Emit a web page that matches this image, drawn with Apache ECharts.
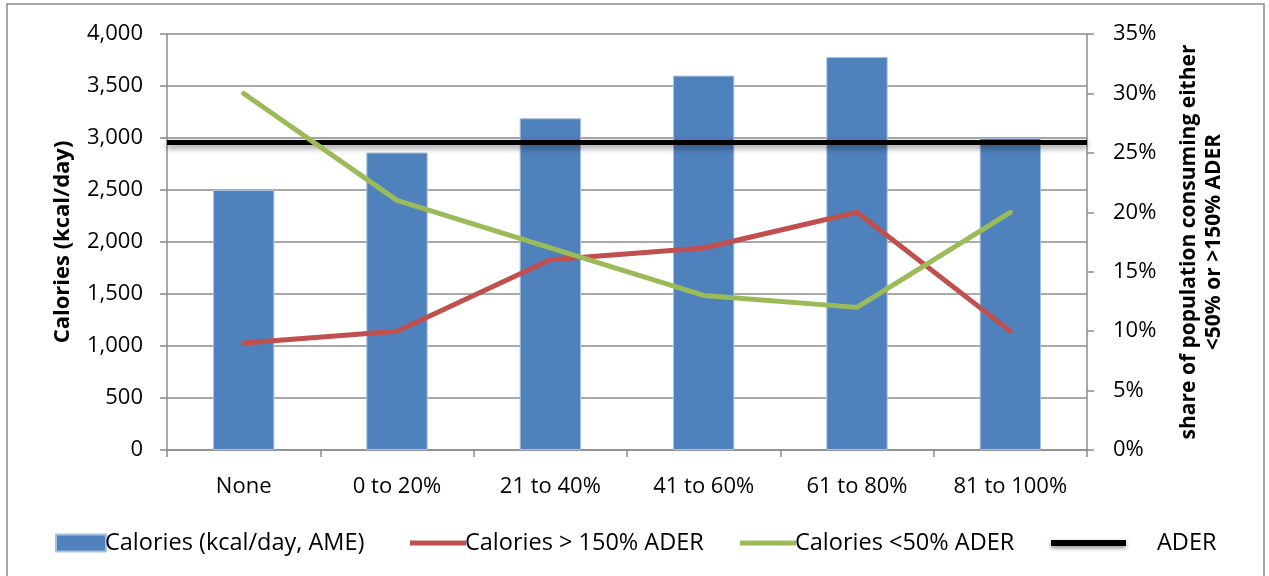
<!DOCTYPE html>
<html>
<head>
<meta charset="utf-8">
<script src="https://cdn.jsdelivr.net/npm/echarts@6/dist/echarts.min.js"></script>
<style>
  html, body { margin: 0; padding: 0; background: #fff; }
  #chart { width: 1269px; height: 576px; }
</style>
</head>
<body>
<div id="chart"></div>
<script>
// Share of land/plot categories and calorie consumption
const categories = ['None', '0 to 20%', '21 to 40%', '41 to 60%', '61 to 80%', '81 to 100%'];
const calories = [2500, 2860, 3190, 3600, 3780, 3000];          // kcal/day, AME
const above150 = [9, 10, 16, 17, 20, 10];                       // % consuming > 150% ADER
const below50 = [30, 21, 17, 13, 12, 20];                       // % consuming < 50% ADER
const aderValue = [2960];                                       // ADER reference, kcal/day
const leftTicks = { min: 0, max: 4000, step: 500 };
const rightTicks = { min: 0, max: 35, step: 5 };

const FONT = '"Open Sans", "Liberation Sans", sans-serif';
const GRID_GRAY = '#8c8c8c';
const TXT = '#000';

const chart = echarts.init(document.getElementById('chart'), null, { renderer: 'canvas' });

const legendBase = {
  orient: 'horizontal',
  itemGap: 0,
  textStyle: { fontFamily: FONT, fontSize: 23.5, color: TXT, padding: [0, 0, 0, -6] },
  selectedMode: false
};

const option = {
  backgroundColor: '#fff',
  animation: false,
  graphic: [{
    type: 'rect',
    shape: { x: 7, y: 4, width: 1257, height: 600 },
    style: { fill: 'none', stroke: '#8a8a8a', lineWidth: 1.5 },
    silent: true
  }],
  grid: { left: 167, right: 182, top: 34, bottom: 126, containLabel: false },
  legend: [
    Object.assign({}, legendBase, {
      left: 50, top: 526, itemWidth: 50, itemHeight: 17,
      data: [{ name: 'Calories (kcal/day, AME)', icon: 'rect' }]
    }),
    Object.assign({}, legendBase, {
      left: 405, top: 526, itemWidth: 56, itemHeight: 5,
      data: [{ name: 'Calories > 150% ADER', icon: 'rect' }]
    }),
    Object.assign({}, legendBase, {
      left: 735, top: 526, itemWidth: 56, itemHeight: 5,
      data: [{ name: 'Calories <50% ADER', icon: 'rect' }]
    }),
    Object.assign({}, legendBase, {
      left: 1046, top: 526, itemWidth: 75, itemHeight: 6,
      textStyle: { fontFamily: FONT, fontSize: 23.5, color: TXT, padding: [0, 0, 0, 26] },
      itemStyle: { shadowBlur: 4, shadowColor: 'rgba(0,0,0,0.45)', shadowOffsetY: 2 },
      data: [{ name: 'ADER', icon: 'rect' }]
    })
  ],
  xAxis: {
    type: 'category',
    data: categories,
    boundaryGap: true,
    axisLine: { show: true, lineStyle: { color: GRID_GRAY, width: 1.5 } },
    axisTick: { show: true, inside: false, length: 7, alignWithLabel: false, lineStyle: { color: GRID_GRAY, width: 1.5 } },
    axisLabel: { fontFamily: FONT, fontSize: 22, color: TXT, margin: 26 },
    splitLine: { show: false }
  },
  yAxis: [
    {
      type: 'value',
      min: leftTicks.min, max: leftTicks.max, interval: leftTicks.step,
      name: 'Calories (kcal/day)',
      nameLocation: 'middle',
      nameRotate: 90,
      nameGap: 93,
      nameTextStyle: { fontFamily: FONT, fontSize: 22, fontWeight: 'bold', color: TXT },
      axisLine: { show: true, lineStyle: { color: GRID_GRAY, width: 1.5 } },
      axisTick: { show: true, inside: false, length: 7, lineStyle: { color: GRID_GRAY, width: 1.5 } },
      axisLabel: {
        fontFamily: FONT, fontSize: 22, color: TXT, margin: 24,
        formatter: v => v.toLocaleString('en-US')
      },
      splitLine: { show: true, lineStyle: { color: GRID_GRAY, width: 1.5 } }
    },
    {
      type: 'value',
      position: 'right',
      min: rightTicks.min, max: rightTicks.max, interval: rightTicks.step,
      name: 'share of population consuming either\n<50% or >150% ADER',
      nameLocation: 'middle',
      nameRotate: 90,
      nameGap: 90,
      nameTextStyle: {
        fontFamily: FONT, fontSize: 21, fontWeight: 'bold', color: TXT,
        lineHeight: 25, align: 'center'
      },
      axisLine: { show: true, lineStyle: { color: GRID_GRAY, width: 1.5 } },
      axisTick: { show: true, inside: false, length: 7, lineStyle: { color: GRID_GRAY, width: 1.5 } },
      axisLabel: {
        fontFamily: FONT, fontSize: 22, color: TXT, margin: 26,
        formatter: v => v + '%'
      },
      splitLine: { show: false }
    }
  ],
  series: [
    {
      name: 'Calories (kcal/day, AME)',
      type: 'bar',
      yAxisIndex: 0,
      data: calories,
      barWidth: '40%',
      itemStyle: { color: '#4f81bd', borderColor: '#a9c1e0', borderWidth: 1 },
      z: 2
    },
    {
      name: 'ADER',
      type: 'line',
      yAxisIndex: 0,
      data: [],
      itemStyle: { color: '#000' },
      lineStyle: { color: '#000', width: 5 },
      markLine: {
        silent: true,
        symbol: ['none', 'none'],
        label: { show: false },
        lineStyle: {
          type: 'solid', color: '#000', width: 5,
          shadowBlur: 6, shadowColor: 'rgba(0,0,0,0.45)', shadowOffsetY: 3
        },
        data: aderValue.map(v => ({ yAxis: v }))
      },
      z: 3
    },
    {
      name: 'Calories > 150% ADER',
      type: 'line',
      yAxisIndex: 1,
      data: above150,
      showSymbol: false,
      symbol: 'none',
      itemStyle: { color: '#c0504d' },
      lineStyle: { color: '#c0504d', width: 5, cap: 'round', join: 'round' },
      z: 4
    },
    {
      name: 'Calories <50% ADER',
      type: 'line',
      yAxisIndex: 1,
      data: below50,
      showSymbol: false,
      symbol: 'none',
      itemStyle: { color: '#9bbb59' },
      lineStyle: { color: '#9bbb59', width: 5, cap: 'round', join: 'round' },
      z: 5
    }
  ]
};

chart.setOption(option);
</script>
</body>
</html>
